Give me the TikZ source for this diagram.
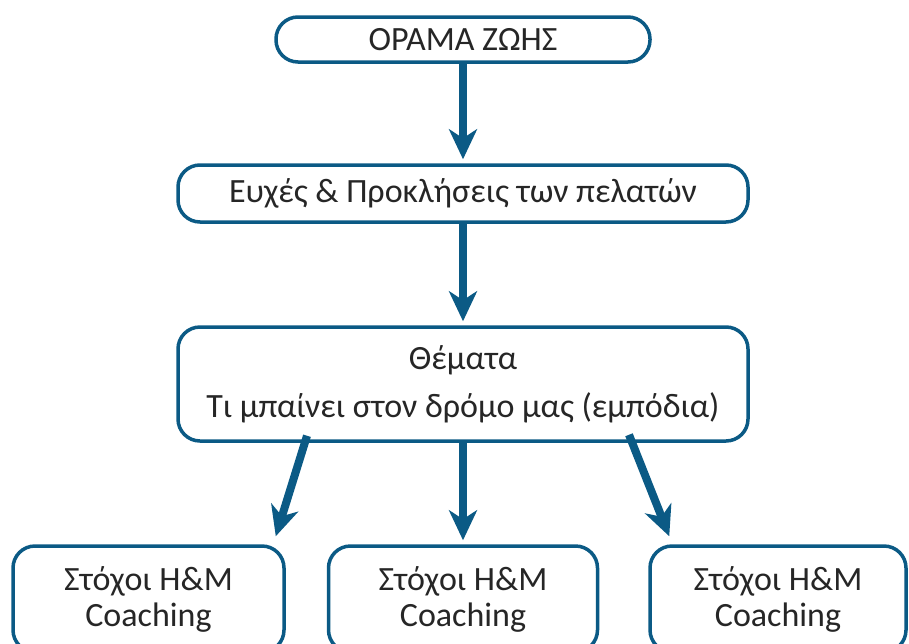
\documentclass[tikz,border=0pt]{standalone}
\usepackage{fontspec}
\setmainfont{Carlito}
\usetikzlibrary{arrows.meta,calc}
\definecolor{boxblue}{HTML}{0B5A85}
\definecolor{textgray}{HTML}{262626}

\begin{document}
\begin{tikzpicture}[
  x=1pt, y=-1pt,
  font=\fontsize{34}{36}\selectfont, text=textgray,
  box/.style={draw=boxblue, line width=3.5pt, rounded corners=22pt,
              fill=white, align=center, inner sep=0pt},
  goalbox/.style={box, minimum height=106pt},
  arrow/.style={draw=boxblue, line width=8pt,
                -{Stealth[length=30pt, width=28pt, inset=9pt]}}
]
\useasboundingbox (0,0) rectangle (909,643);
\clip (0,0) rectangle (909,643);

% ---------------- Chain ----------------
\node[box, minimum width=374pt, minimum height=45pt] (vision) at (463,39.5)
  {ΟΡΑΜΑ ΖΩΗΣ};
\node[box, minimum width=570pt, minimum height=57pt] (wishes) at (463,193.5)
  {Ευχές \& Προκλήσεις των πελατών};
\node[box, minimum width=570pt, minimum height=114pt] (topics) at (463,384)
  {Θέματα\\[12pt] Τι μπαίνει στον δρόμο μας (εμπόδια)};

% ---------------- Goals ----------------
\node[goalbox, minimum width=271pt] (goalA) at (148.5,599) {Στόχοι H\&M\\Coaching};
\node[goalbox, minimum width=269pt] (goalB) at (463,599)   {Στόχοι H\&M\\Coaching};
\node[goalbox, minimum width=256pt] (goalC) at (778,599)   {Στόχοι H\&M\\Coaching};

% ---------------- Arrows ----------------
\draw[arrow] (vision.south) -- ([yshift=4pt]wishes.north);
\draw[arrow] (wishes.south) -- ([yshift=4pt]topics.north);
\draw[arrow] ([xshift=-156pt,yshift=7pt]topics.south) -- ([xshift=-10pt,yshift=8pt]goalA.north east);
\draw[arrow] (topics.south) -- ([yshift=4pt]goalB.north);
\draw[arrow] ([xshift=166pt,yshift=8pt]topics.south) -- ([xshift=21pt,yshift=8pt]goalC.north west);

\end{tikzpicture}
\end{document}
